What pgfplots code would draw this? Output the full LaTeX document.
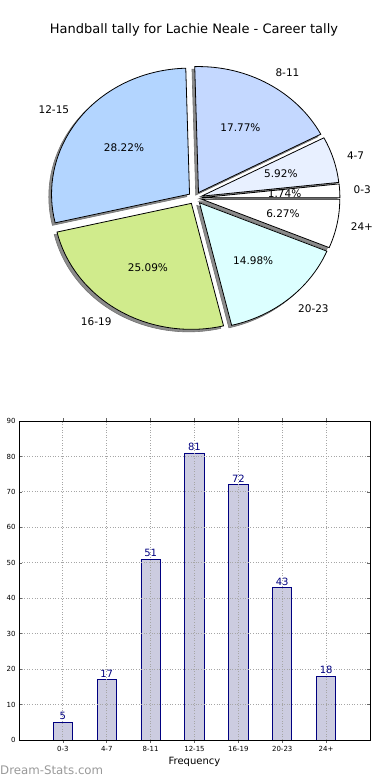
\documentclass[border=0pt]{standalone}
\usepackage{pgfplots}
\pgfplotsset{compat=1.18}
\usepackage{pgfplotstable}
\usepackage{fontspec}
\setmainfont{DejaVu Sans}

\definecolor{c0}{HTML}{FFFFFF}
\definecolor{c1}{HTML}{E8F0FF}
\definecolor{c2}{HTML}{C4D8FF}
\definecolor{c3}{HTML}{B3D5FF}
\definecolor{c4}{HTML}{D0EB8C}
\definecolor{c5}{HTML}{DCFFFF}
\definecolor{c6}{HTML}{FFFFFF}
\definecolor{barfill}{HTML}{CCCCE0}
\definecolor{baredge}{HTML}{000080}
\definecolor{shadowc}{HTML}{8C8C8C}
\definecolor{wmark}{HTML}{999999}

\pgfplotstableread{
cat val col
0-3 5 c0
4-7 17 c1
8-11 51 c2
12-15 81 c3
16-19 72 c4
20-23 43 c5
24+ 18 c6
}\tally

\pgfmathsetmacro\total{0}
\pgfplotsforeachungrouped \i in {0,...,6}{%
  \pgfplotstablegetelem{\i}{val}\of\tally
  \pgfmathsetmacro\total{\total+\pgfplotsretval}%
}

\begin{document}
\begin{tikzpicture}[x=1pt,y=1pt]
\useasboundingbox (0,0) rectangle (390,780);
\node[font=\fontsize{13}{15}\selectfont] at (194,750) {Handball tally for Lachie Neale - Career tally};

% ---------------- pie ----------------
\begin{axis}[
  at={(195pt,582pt)}, anchor=center,
  x=138pt, y=126pt,
  xmin=-1.4, xmax=1.4, ymin=-1.4, ymax=1.4,
  hide axis, clip=false,
]
\pgfplotsextra{%
  % shadows
  \pgfmathsetmacro\cum{0}%
  \pgfplotsforeachungrouped \i in {0,...,6}{%
    \pgfplotstablegetelem{\i}{val}\of\tally \let\wv\pgfplotsretval
    \pgfmathsetmacro\wa{360*(\cum/\total)}%
    \pgfmathsetmacro\wb{360*((\cum+\wv)/\total)}%
    \pgfmathsetmacro\wm{(\wa+\wb)/2}%
    \pgfmathsetmacro\wox{0.05*cos(\wm)-0.02}%
    \pgfmathsetmacro\woy{0.05*sin(\wm)-0.02}%
    \pgfmathsetmacro\wsx{\wox+cos(\wa)}%
    \pgfmathsetmacro\wsy{\woy+sin(\wa)}%
    \filldraw[fill=shadowc, draw=black!55, line width=0.6pt]
      (axis cs:\wox,\woy) -- (axis cs:\wsx,\wsy)
      arc[start angle=\wa, end angle=\wb, x radius=138pt, y radius=126pt] -- cycle;
    \pgfmathsetmacro\cum{\cum+\wv}%
  }%
  % wedges
  \pgfmathsetmacro\cum{0}%
  \pgfplotsforeachungrouped \i in {0,...,6}{%
    \pgfplotstablegetelem{\i}{val}\of\tally \let\wv\pgfplotsretval
    \pgfplotstablegetelem{\i}{col}\of\tally \let\wc\pgfplotsretval
    \pgfplotstablegetelem{\i}{cat}\of\tally \let\wn\pgfplotsretval
    \pgfmathsetmacro\wa{360*(\cum/\total)}%
    \pgfmathsetmacro\wb{360*((\cum+\wv)/\total)}%
    \pgfmathsetmacro\wm{(\wa+\wb)/2}%
    \pgfmathsetmacro\wox{0.05*cos(\wm)}%
    \pgfmathsetmacro\woy{0.05*sin(\wm)}%
    \pgfmathsetmacro\wsx{\wox+cos(\wa)}%
    \pgfmathsetmacro\wsy{\woy+sin(\wa)}%
    \filldraw[fill=\wc, draw=black, line width=0.8pt, line join=miter]
      (axis cs:\wox,\woy) -- (axis cs:\wsx,\wsy)
      arc[start angle=\wa, end angle=\wb, x radius=138pt, y radius=126pt] -- cycle;
    \pgfmathsetmacro\wlx{\wox+1.1*cos(\wm)}%
    \pgfmathsetmacro\wly{\woy+1.1*sin(\wm)}%
    \pgfmathsetmacro\wpx{\wox+0.6*cos(\wm)}%
    \pgfmathsetmacro\wpy{\woy+0.6*sin(\wm)}%
    \pgfmathsetmacro\wp{100*(\wv/\total)}%
    \pgfmathsetmacro\wcos{cos(\wm)}%
    \ifdim\wcos pt>0pt \def\wanc{west}\else\def\wanc{east}\fi
    \node[anchor=\wanc, inner sep=0pt, font=\fontsize{10.5}{12}\selectfont] at (axis cs:\wlx,\wly) {\wn};
    \node[inner sep=0pt, font=\fontsize{10.5}{12}\selectfont] at (axis cs:\wpx,\wpy)
      {\pgfmathprintnumber[fixed,fixed zerofill,precision=2,assume math mode=true]{\wp}\%};
    \pgfmathsetmacro\cum{\cum+\wv}%
  }%
}
\end{axis}

% ---------------- bars ----------------
\begin{axis}[
  at={(19pt,40pt)}, anchor=south west,
  width=351pt, height=319pt, scale only axis,
  xmin=-1, xmax=7, ymin=0, ymax=90,
  xtick={0,...,6},
  xticklabels from table={\tally}{cat},
  ytick={0,10,...,90},
  ticklabel style={font=\fontsize{7}{8}\selectfont},
  /pgf/number format/assume math mode=true,
  tick align=inside, major tick length=3pt,
  tick style={black!60, line width=0.5pt},
  axis line style={black, line width=0.9pt},
  grid=major,
  grid style={black!35, line width=0.8pt, dash pattern=on 1pt off 1.6pt},
  axis on top,
  xlabel={Frequency},
  xlabel style={font=\fontsize{10}{11}\selectfont, yshift=1pt},
  ybar, bar width=0.44,
  nodes near coords,
  nodes near coords style={font=\fontsize{10}{11}\selectfont, color=baredge, inner sep=2pt},
  xticklabel style={yshift=0pt},
]
\addplot[fill=barfill, draw=baredge, line width=0.8pt] table[x expr=\coordindex, y=val] {\tally};
\end{axis}

\node[anchor=west, text=wmark, font=\fontsize{11.8}{13}\selectfont, inner sep=0pt] at (0,10) {Dream-Stats.com};
\end{tikzpicture}
\end{document}
